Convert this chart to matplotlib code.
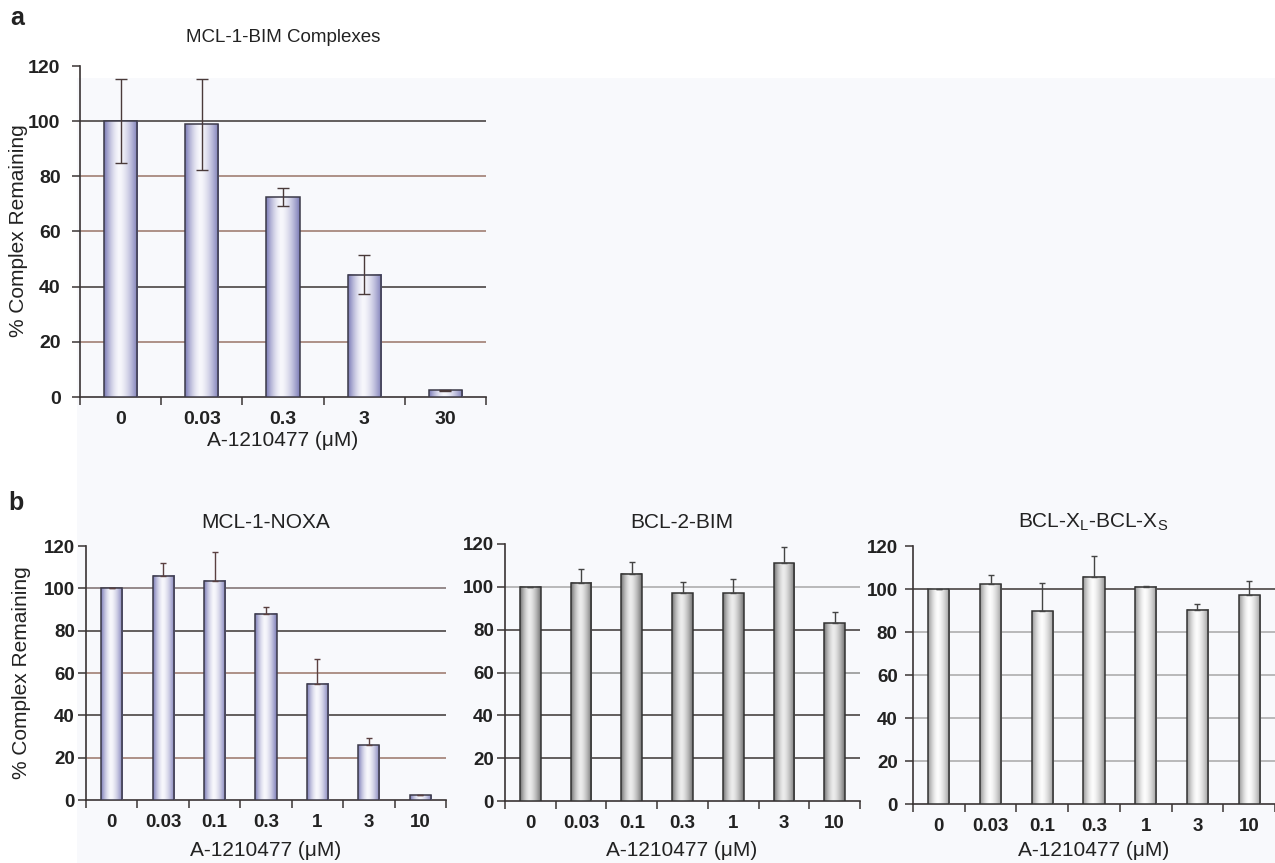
import numpy as np
import matplotlib
matplotlib.use("Agg")
import matplotlib.pyplot as plt
from matplotlib.colors import LinearSegmentedColormap
from matplotlib.patches import Rectangle

# ---------------- data ----------------
a_doses = ["0", "0.03", "0.3", "3", "30"]
a_values = [100, 98.8, 72.5, 44.3, 2.4]
a_errors = [15.3, 16.5, 3.1, 7.0, 0.3]

b_doses = ["0", "0.03", "0.1", "0.3", "1", "3", "10"]
noxa_values = [100, 106.0, 103.5, 88.0, 55.0, 25.8, 2.2]
noxa_errors = [0, 6.2, 13.7, 3.4, 11.5, 3.6, 0]
bcl2_values = [100, 102.0, 106.0, 97.0, 97.0, 111.0, 83.0]
bcl2_errors = [0, 6.2, 5.5, 5.4, 6.8, 7.8, 5.4]
bclx_values = [100, 102.2, 89.7, 105.6, 101.1, 90.4, 97.1]
bclx_errors = [0, 4.2, 13.2, 9.7, 0.4, 2.5, 6.5]

y_ticks = [0, 20, 40, 60, 80, 100, 120]

# ---------------- style ----------------
W, H = 1275, 863
fig = plt.figure(figsize=(W / 100, H / 100), dpi=100)
fig.patch.set_facecolor("white")
fig.patches.append(Rectangle((77 / W, 0), 1, 1 - 78 / H, transform=fig.transFigure,
                             facecolor="#F8F9FC", edgecolor="none", zorder=-10))

TICKFONT = ["Liberation Sans", "DejaVu Sans"]
TEXTFONT = ["Liberation Sans", "DejaVu Sans"]

BROWN = "#9A7468"
DARK = "#3A3434"
GRAY = "#8E8E8E"
LGRAY = "#A8A8A8"


def fx(px):
    return px / W


def fy(py):
    return 1 - py / H


def gradient_cmap(edge, center):
    return LinearSegmentedColormap.from_list("g", [edge, center])


def draw_panel(rect_px, doses, values, errors, symmetric, cmap, edgecolor,
               grid_colors, errcolor, capsize, ypad, tick_fs):
    l, t, r, b = rect_px
    ax = fig.add_axes([fx(l), fy(b), fx(r - l), (b - t) / H])
    ax.set_facecolor("none")
    ax.set_zorder(1)
    n = len(doses)
    x = np.arange(n)
    bars = ax.bar(x, values, width=0.41, facecolor="none", edgecolor=edgecolor,
                  linewidth=1.1, zorder=4)
    # gradient fill for each bar (dark edges, light centre slightly left)
    prof = np.linspace(0, 1, 200)
    dist = np.where(prof < 0.45, (0.45 - prof) / 0.45, (prof - 0.45) / 0.55)
    grad = (1 - dist ** 1.6)[np.newaxis, :]
    for p in bars.patches:
        ax.imshow(grad, extent=[p.get_x(), p.get_x() + p.get_width(), 0, p.get_height()],
                  aspect="auto", cmap=cmap, vmin=0, vmax=1, zorder=3,
                  interpolation="bilinear")
    # error bars
    if symmetric:
        yerr = [errors, errors]
    else:
        yerr = [np.zeros(n), errors]
    ax.errorbar(x, values, yerr=yerr, fmt="none", ecolor=errcolor, elinewidth=1.0,
                capsize=capsize, capthick=1.0, zorder=5)
    # grid lines
    for yv, c in zip(y_ticks[1:-1], grid_colors):
        ax.axhline(yv, color=c, linewidth=1.1, zorder=1)
    ax.set_xlim(-0.5, n - 0.5)
    ax.set_ylim(0, 120)
    for s in ["top", "right"]:
        ax.spines[s].set_visible(False)
    for s in ["left", "bottom"]:
        ax.spines[s].set_color(DARK)
        ax.spines[s].set_linewidth(1.2)
    ax.set_yticks(y_ticks)
    ax.set_yticklabels([str(v) for v in y_ticks], family=TICKFONT,
                       fontweight="bold", fontsize=tick_fs, color="#222222")
    ax.set_xticks(x)
    ax.set_xticklabels(doses, family=TICKFONT, fontweight="bold", fontsize=tick_fs,
                       color="#222222")
    ax.set_xticks(np.arange(-0.5, n, 1.0), minor=True)
    ax.tick_params(axis="x", which="major", length=0, pad=10)
    ax.tick_params(axis="x", which="minor", length=6, width=1.1, color=DARK,
                   direction="out")
    ax.tick_params(axis="y", length=6, width=1.1, color=DARK, pad=ypad)
    return ax


blue = gradient_cmap("#7A7AB6", "#F7F7FC")
gray_mid = gradient_cmap("#707070", "#ECECEC")
gray_light = gradient_cmap("#949494", "#FCFCFC")

# panel a
draw_panel((80, 66, 486, 397), a_doses, a_values, a_errors, True, blue, "#3C3A48",
           [BROWN, DARK, BROWN, BROWN, DARK], "#4A3A3A", 4, 8, 14)
# panel b
draw_panel((86, 546, 446, 800), b_doses, noxa_values, noxa_errors, False, blue, "#3C3A48",
           [BROWN, DARK, BROWN, DARK, "#7A6C6C"], "#5A4040", 2.5, 2, 13.5)
draw_panel((505, 544, 860, 801), b_doses, bcl2_values, bcl2_errors, False, gray_mid, "#333333",
           [DARK, DARK, GRAY, DARK, LGRAY], "#444444", 2.5, 2, 13.5)
draw_panel((913, 546, 1275, 804), b_doses, bclx_values, bclx_errors, False, gray_light, "#333333",
           [LGRAY, LGRAY, LGRAY, LGRAY, DARK], "#444444", 2.5, 5, 13.5)

# ---------------- texts ----------------
tcol = "#222222"
fig.text(fx(17), fy(18), "a", family=TEXTFONT, fontweight="bold", fontsize=18,
         ha="center", va="center", color=tcol)
fig.text(fx(16), fy(503), "b", family=TEXTFONT, fontweight="bold", fontsize=18,
         ha="center", va="center", color=tcol)

fig.text(fx(283), fy(38), "MCL-1-BIM Complexes", family=TEXTFONT, fontsize=13.5,
         ha="center", va="center", color=tcol)
fig.text(fx(266), fy(523), "MCL-1-NOXA", family=TEXTFONT, fontsize=15,
         ha="center", va="center", color=tcol)
fig.text(fx(682), fy(522), "BCL-2-BIM", family=TEXTFONT, fontsize=15,
         ha="center", va="center", color=tcol)
fig.text(fx(1093), fy(522), r"BCL-X$_\mathregular{L}$-BCL-X$_\mathregular{S}$",
         family=TEXTFONT, fontsize=15, ha="center", va="center", color=tcol)

xlab = "A-1210477 (\u03bcM)"
fig.text(fx(283), fy(441), xlab, family=TEXTFONT, fontsize=15, ha="center", va="center", color=tcol)
fig.text(fx(266), fy(850), xlab, family=TEXTFONT, fontsize=15, ha="center", va="center", color=tcol)
fig.text(fx(682), fy(850), xlab, family=TEXTFONT, fontsize=15, ha="center", va="center", color=tcol)
fig.text(fx(1094), fy(850), xlab, family=TEXTFONT, fontsize=15, ha="center", va="center", color=tcol)

ylab = "% Complex Remaining"
fig.text(fx(19), fy(231), ylab, family=TEXTFONT, fontsize=15, rotation=90,
         ha="center", va="center", color=tcol)
fig.text(fx(22), fy(673), ylab, family=TEXTFONT, fontsize=15, rotation=90,
         ha="center", va="center", color=tcol)

fig.savefig("out.png", dpi=100, facecolor="white")
